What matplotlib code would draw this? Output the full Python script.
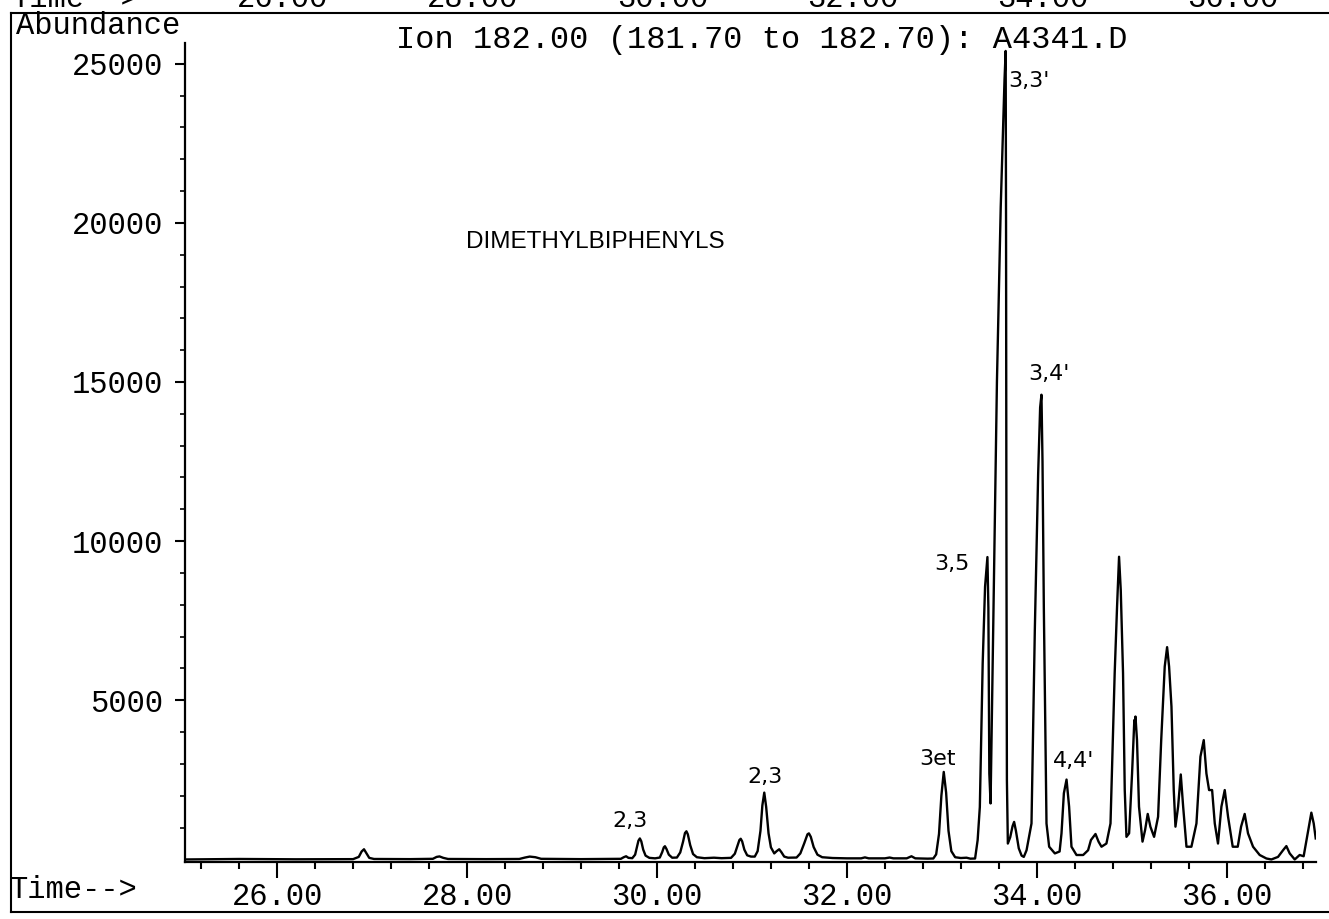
import matplotlib
matplotlib.use("Agg")
import matplotlib.pyplot as plt
from matplotlib import transforms
from matplotlib.lines import Line2D

# Ion 182 trace: retention time (min) and abundance
time_min = [
    25.03, 25.60, 26.20, 26.80, 26.86, 26.89, 26.915, 26.94, 26.97, 27.02,
    27.40, 27.64, 27.68, 27.71, 27.75, 27.80, 28.20, 28.55, 28.61, 28.66,
    28.72, 28.78, 29.20, 29.62, 29.65, 29.675, 29.70, 29.74, 29.77, 29.79,
    29.805, 29.82, 29.835, 29.855, 29.88, 29.92, 29.98, 30.03, 30.055, 30.072,
    30.084, 30.10, 30.125, 30.16, 30.21, 30.245, 30.275, 30.295, 30.31, 30.325,
    30.35, 30.38, 30.42, 30.50, 30.60, 30.68, 30.78, 30.82, 30.85, 30.868,
    30.882, 30.897, 30.92, 30.95, 30.99, 31.03, 31.06, 31.09, 31.11, 31.13,
    31.15, 31.175, 31.20, 31.235, 31.26, 31.287, 31.31, 31.34, 31.38, 31.47,
    31.51, 31.55, 31.585, 31.60, 31.62, 31.65, 31.69, 31.74, 31.85, 32.00,
    32.15, 32.19, 32.23, 32.40, 32.45, 32.49, 32.63, 32.68, 32.72, 32.85,
    32.91, 32.94, 32.97, 32.995, 33.02, 33.045, 33.07, 33.10, 33.14, 33.20,
    33.26, 33.30, 33.35, 33.377, 33.40, 33.43, 33.455, 33.48, 33.49, 33.50,
    33.513, 33.55, 33.58, 33.62, 33.66, 33.672, 33.676, 33.68, 33.685, 33.695,
    33.72, 33.745, 33.761, 33.78, 33.81, 33.84, 33.863, 33.892, 33.944, 33.979,
    34.014, 34.035, 34.049, 34.06, 34.074, 34.102, 34.13, 34.19, 34.24, 34.26,
    34.285, 34.313, 34.34, 34.365, 34.418, 34.488, 34.54, 34.57, 34.618, 34.65,
    34.681, 34.733, 34.776, 34.82, 34.845, 34.866, 34.884, 34.908, 34.926, 34.944,
    34.972, 35.003, 35.027, 35.033, 35.039, 35.055, 35.076, 35.113, 35.14, 35.168,
    35.196, 35.235, 35.277, 35.31, 35.347, 35.372, 35.393, 35.418, 35.442, 35.46,
    35.488, 35.516, 35.541, 35.576, 35.628, 35.681, 35.723, 35.758, 35.786, 35.814,
    35.846, 35.874, 35.908, 35.944, 35.979, 36.014, 36.063, 36.116, 36.151, 36.189,
    36.224, 36.277, 36.347, 36.418, 36.47, 36.54, 36.593, 36.628, 36.663, 36.716,
    36.768, 36.81, 36.846, 36.891, 36.916, 36.937,
]
abundance = [
    0, 15, 5, 10, 80, 250, 320, 200, 50, 15,
    10, 20, 80, 95, 50, 15, 10, 15, 60, 90,
    70, 20, 10, 20, 70, 100, 50, 40, 150, 400,
    590, 660, 570, 310, 120, 50, 35, 60, 230, 380,
    415, 330, 150, 55, 60, 220, 560, 830, 885, 790,
    450, 170, 70, 40, 55, 40, 50, 180, 450, 610,
    650, 570, 310, 130, 90, 90, 260, 900, 1700, 2100,
    1650, 820, 380, 190, 260, 320, 230, 90, 55, 60,
    190, 500, 790, 820, 710, 390, 150, 70, 45, 35,
    35, 65, 35, 35, 60, 35, 35, 100, 35, 25,
    30, 160, 800, 2000, 2750, 2100, 900, 260, 70, 45,
    55, 25, 30, 610, 1650, 6160, 8570, 9500, 7900, 2700,
    1760, 9000, 15000, 20500, 24500, 25400, 20000, 10000, 2500, 500,
    700, 1050, 1180, 900, 350, 120, 80, 290, 1130, 7200,
    12100, 14200, 14600, 12500, 7900, 1130, 400, 190, 250, 820,
    2080, 2510, 1660, 400, 140, 140, 290, 610, 800, 560,
    400, 500, 1130, 5850, 7940, 9510, 8460, 5850, 2180, 710,
    820, 2700, 4380, 4300, 4490, 3750, 1660, 560, 920, 1430,
    1030, 710, 1340, 3750, 6060, 6670, 6060, 4800, 2180, 1030,
    1660, 2670, 1660, 400, 400, 1130, 3230, 3750, 2700, 2180,
    2180, 1130, 500, 1660, 2180, 1340, 400, 400, 1030, 1430,
    820, 400, 140, 30, 0, 80, 290, 420, 190, 0,
    140, 100, 710, 1470, 1130, 660,
]

# handwritten peak notes
peak_labels = ["2,3", "2,3", "3et", "3,5", "3,3'", "3,4'", "4,4'"]
label_time = [29.72, 31.14, 32.95, 33.11, 33.92, 34.13, 34.39]
label_abund = [1200, 2580, 3150, 9280, 24470, 15250, 3080]

x_major = [26, 28, 30, 32, 34, 36]
x_labels = ["26.00", "28.00", "30.00", "32.00", "34.00", "36.00"]
y_major = [5000, 10000, 15000, 20000, 25000]
y_labels = ["5000", "10000", "15000", "20000", "25000"]

W, H = 1329, 919
plt.rcParams["font.family"] = "Liberation Mono"

fig = plt.figure(figsize=(W / 100, H / 100), dpi=100)
ax = fig.add_axes([185 / W, 1 - 862 / H, 1131 / W, 819 / H])

ax.plot(time_min, abundance, color="black", lw=1.7)
ax.set_xlim(25.03, 36.94)
ax.set_ylim(-80, 25650)

for side in ["top", "right"]:
    ax.spines[side].set_visible(False)
for side in ["left", "bottom"]:
    ax.spines[side].set_linewidth(1.6)

ax.set_xticks(x_major)
ax.set_xticklabels(x_labels)
ax.set_xticks([25.2 + 0.4 * i for i in range(30) if 25.2 + 0.4 * i < 36.9], minor=True)
ax.set_yticks(y_major)
ax.set_yticklabels(y_labels)
ax.set_yticks([1000 * i for i in range(1, 26) if i % 5], minor=True)

ax.tick_params(axis="x", which="major", direction="out", length=11.5, width=1.5,
               labelsize=22, pad=3)
ax.tick_params(axis="x", which="minor", direction="out", length=5, width=1.5)
ax.tick_params(axis="y", which="major", direction="out", length=7, width=1.5,
               labelsize=22, pad=9)
ax.tick_params(axis="y", which="minor", direction="out", length=3.5, width=1.2)

# peak notes
for lab, t, a in zip(peak_labels, label_time, label_abund):
    ax.text(t, a, lab, ha="center", va="center", fontsize=16,
            family="DejaVu Sans", color="black")

ax.text(29.35, 19400, "DIMETHYLBIPHENYLS", ha="center", va="center",
        fontsize=17.5, family="Liberation Sans", color="black")

# header texts of the printout
fig.text(16 / W, 1 - 26 / H, "Abundance", ha="left", va="center", fontsize=22)
fig.text(762 / W, 1 - 40 / H, "Ion 182.00 (181.70 to 182.70): A4341.D",
         ha="center", va="center", fontsize=23)
fig.text(10 / W, 1 - 890 / H, "Time-->", ha="left", va="center", fontsize=22)

# bottom edge of the previous panel, cut off by the scan
strip = transforms.blended_transform_factory(ax.transData, fig.transFigure)
fig.text(12 / W, 1 - 7 / H, "Time-->", ha="left", va="baseline", fontsize=22)
for t, lab in zip(x_major, x_labels):
    fig.text(t + 0.06, 1 - 7 / H, lab, ha="center", va="baseline", fontsize=22,
             transform=strip)

# frame lines of the printout
frame = dict(color="black", lw=1.5, transform=fig.transFigure)
fig.add_artist(Line2D([11 / W, 1], [1 - 13 / H, 1 - 13 / H], **frame))
fig.add_artist(Line2D([11 / W, 11 / W], [1 - 13 / H, 1 - 912 / H], **frame))
fig.add_artist(Line2D([11 / W, 1], [1 - 912 / H, 1 - 912 / H], **frame))

fig.savefig("out.png", dpi=100)
